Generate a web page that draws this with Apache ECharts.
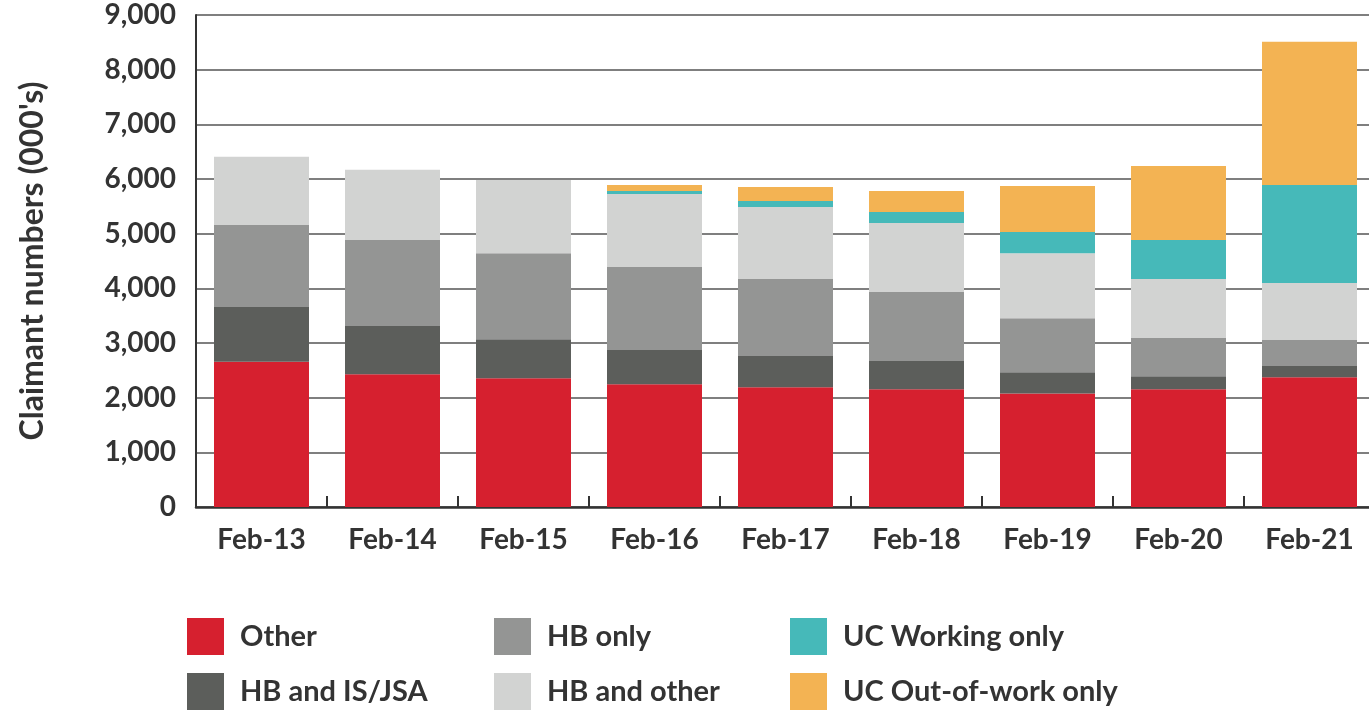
<!DOCTYPE html>
<html lang="en">
<head>
    <meta charset="UTF-8">
    <title>Claimant numbers</title>
    <script src="https://cdn.jsdelivr.net/npm/echarts@6/dist/echarts.min.js"></script>
    <style>
        html, body {margin: 0; padding: 0; background: #fff;}
        #main {width: 1369px; height: 712px;}
    </style>
</head>
<body>
<div id="main"></div>
<script type="text/javascript">
    // data (000's)
    var months = ['Feb-13', 'Feb-14', 'Feb-15', 'Feb-16', 'Feb-17', 'Feb-18', 'Feb-19', 'Feb-20', 'Feb-21'];
    var other = [2656, 2430, 2357, 2247, 2192, 2156, 2077, 2156, 2375];
    var hbIsJsa = [1001, 880, 711, 623, 568, 513, 390, 238, 202];
    var hbOnly = [1502, 1575, 1575, 1520, 1410, 1263, 986, 696, 476];
    var hbOther = [1246, 1282, 1337, 1337, 1319, 1264, 1190, 1080, 1044];
    var ucWorking = [0, 0, 0, 55, 110, 201, 388, 715, 1795];
    var ucOutOfWork = [0, 0, 0, 110, 256, 385, 843, 1355, 2619];

    var seriesNames = ['Other', 'HB and IS/JSA', 'HB only', 'HB and other', 'UC Working only', 'UC Out-of-work only'];
    var seriesData = [other, hbIsJsa, hbOnly, hbOther, ucWorking, ucOutOfWork];
    var colors = ['#d6202f', '#5c5e5b', '#949594', '#d2d3d2', '#46b9b9', '#f3b353'];

    var font = 'Lato, "Open Sans", sans-serif';
    var textCol = '#333';

    // legend slots: 3 columns x 2 rows
    var legendPos = [
        {name: 'Other', left: 187, top: 618},
        {name: 'HB and IS/JSA', left: 187, top: 673},
        {name: 'HB only', left: 494, top: 618},
        {name: 'HB and other', left: 494, top: 673},
        {name: 'UC Working only', left: 790, top: 618},
        {name: 'UC Out-of-work only', left: 790, top: 673}
    ];

    var myChart = echarts.init(document.getElementById('main'));

    var option = {
        animation: false,
        textStyle: {fontFamily: font},
        legend: legendPos.map(function (p) {
            return {
                data: [p.name],
                left: p.left,
                top: p.top,
                padding: 0,
                icon: 'rect',
                itemWidth: 37,
                itemHeight: 37,
                selectedMode: false,
                textStyle: {
                    fontFamily: font,
                    fontSize: 29,
                    fontWeight: 'bold',
                    color: textCol,
                    padding: [0, 0, 0, 11]
                }
            };
        }),
        grid: {left: 196, right: -6, top: 15, bottom: 205, outerBoundsMode: 'none'},
        xAxis: {
            type: 'category',
            data: months,
            axisLine: {lineStyle: {color: '#333', width: 2.5}},
            axisTick: {show: true, inside: true, length: 11, lineStyle: {color: '#333', width: 2}},
            axisLabel: {
                margin: 19,
                fontSize: 28,
                fontWeight: 'bold',
                color: textCol,
                fontFamily: font
            }
        },
        yAxis: {
            type: 'value',
            min: 0,
            max: 9000,
            interval: 1000,
            name: "Claimant numbers (000's)",
            nameLocation: 'middle',
            nameGap: 147,
            nameTextStyle: {
                fontSize: 32,
                fontWeight: 'bold',
                color: textCol,
                fontFamily: font
            },
            axisLine: {show: true, lineStyle: {color: '#333', width: 2}},
            axisTick: {show: false},
            splitLine: {lineStyle: {color: '#555', width: 1.5}},
            axisLabel: {
                margin: 20,
                fontSize: 28,
                fontWeight: 'bold',
                color: textCol,
                fontFamily: font,
                formatter: function (v) {
                    return v.toLocaleString('en-US');
                }
            }
        },
        series: seriesNames.map(function (name, i) {
            return {
                name: name,
                type: 'bar',
                stack: 'total',
                barWidth: 95,
                itemStyle: {color: colors[i]},
                data: seriesData[i]
            };
        })
    };

    myChart.setOption(option);
</script>
</body>
</html>
